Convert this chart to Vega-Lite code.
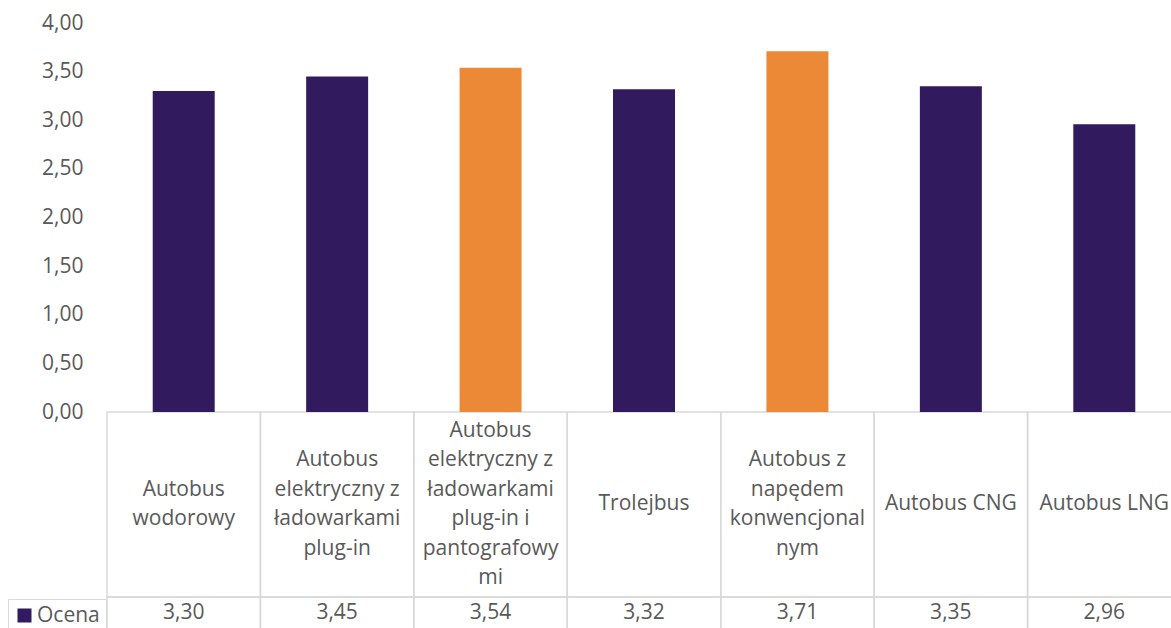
{
  "$schema": "https://vega.github.io/schema/vega-lite/v6.json",
  "width": 1074,
  "height": 605,
  "autosize": {"type": "none"},
  "padding": {"left": 107, "top": 23, "right": 0, "bottom": 0},
  "background": "white",
  "config": {
    "view": {"stroke": null},
    "font": "Open Sans",
    "locale": {"number": {"decimal": ",", "thousands": " ", "grouping": [3], "currency": ["", " zł"]}}
  },
  "data": {
    "values": [
      {"pojazd": "Autobus wodorowy", "lines": ["Autobus", "wodorowy"], "ocena": 3.30, "seria": "Ocena"},
      {"pojazd": "Autobus elektryczny z ładowarkami plug-in", "lines": ["Autobus", "elektryczny z", "ładowarkami", "plug-in"], "ocena": 3.45, "seria": "Ocena"},
      {"pojazd": "Autobus elektryczny z ładowarkami plug-in i pantografowymi", "lines": ["Autobus", "elektryczny z", "ładowarkami", "plug-in i", "pantografowy", "mi"], "ocena": 3.54, "seria": "Ocena"},
      {"pojazd": "Trolejbus", "lines": ["Trolejbus"], "ocena": 3.32, "seria": "Ocena"},
      {"pojazd": "Autobus z napędem konwencjonalnym", "lines": ["Autobus z", "napędem", "konwencjonal", "nym"], "ocena": 3.71, "seria": "Ocena"},
      {"pojazd": "Autobus CNG", "lines": ["Autobus CNG"], "ocena": 3.35, "seria": "Ocena"},
      {"pojazd": "Autobus LNG", "lines": ["Autobus LNG"], "ocena": 2.96, "seria": "Ocena"}
    ]
  },
  "layer": [
    {
      "mark": {"type": "rect", "fill": null, "stroke": "#d9d9d9", "strokeWidth": 1.5},
      "encoding": {
        "x": {"field": "pojazd", "type": "nominal", "sort": null, "axis": null, "scale": {"paddingInner": 0, "paddingOuter": 0}},
        "y": {"datum": 0, "type": "quantitative"},
        "y2": {"datum": -1.902}
      }
    },
    {
      "mark": {"type": "rect", "fill": null, "stroke": "#d9d9d9", "strokeWidth": 1.5},
      "encoding": {
        "x": {"field": "pojazd", "type": "nominal", "sort": null, "axis": null, "scale": {"paddingInner": 0, "paddingOuter": 0}},
        "y": {"datum": -1.902, "type": "quantitative"},
        "y2": {"datum": -2.4}
      }
    },
    {
      "mark": {"type": "bar"},
      "encoding": {
        "x": {"field": "pojazd", "type": "nominal", "sort": null, "axis": null, "scale": {"paddingInner": 0.596, "paddingOuter": 0.298}},
        "y": {
          "field": "ocena", "type": "quantitative",
          "scale": {"domain": [-2.221, 4], "nice": false, "zero": false},
          "axis": {
            "values": [0, 0.5, 1, 1.5, 2, 2.5, 3, 3.5, 4],
            "format": ".2f",
            "title": null,
            "domain": false,
            "ticks": false,
            "labelPadding": 24,
            "labelFontSize": 21,
            "labelColor": "#595959",
            "gridColor": "#d9d9d9",
            "gridWidth": 1.5
          }
        },
        "color": {
          "condition": {"test": "datum.ocena > 3.5", "value": "#EB8936"},
          "field": "seria", "type": "nominal",
          "scale": {"domain": ["Ocena"], "range": ["#321A5E"]},
          "legend": {
            "title": null,
            "orient": "none",
            "legendX": -99,
            "legendY": 576,
            "padding": 6,
            "strokeColor": "#d9d9d9",
            "symbolType": "square",
            "symbolSize": 196,
            "symbolStrokeWidth": 0,
            "labelFontSize": 21,
            "labelColor": "#595959",
            "labelFont": "Open Sans",
            "labelOffset": 2
          }
        }
      }
    },
    {
      "transform": [
        {"calculate": "-0.951 + (length(datum.lines) - 1) / 2 * 0.3033", "as": "ly"}
      ],
      "mark": {"type": "text", "fontSize": 21, "color": "#595959", "baseline": "middle", "align": "center", "lineHeight": 29.5},
      "encoding": {
        "x": {"field": "pojazd", "type": "nominal", "sort": null, "axis": null, "scale": {"paddingInner": 0, "paddingOuter": 0}},
        "y": {"field": "ly", "type": "quantitative"},
        "text": {"field": "lines"}
      }
    },
    {
      "mark": {"type": "text", "fontSize": 21, "color": "#595959", "baseline": "middle", "align": "center"},
      "encoding": {
        "x": {"field": "pojazd", "type": "nominal", "sort": null, "axis": null, "scale": {"paddingInner": 0, "paddingOuter": 0}},
        "y": {"datum": -2.067, "type": "quantitative"},
        "text": {"field": "ocena", "type": "quantitative", "format": ".2f"}
      }
    }
  ],
  "resolve": {"scale": {"x": "independent"}}
}
